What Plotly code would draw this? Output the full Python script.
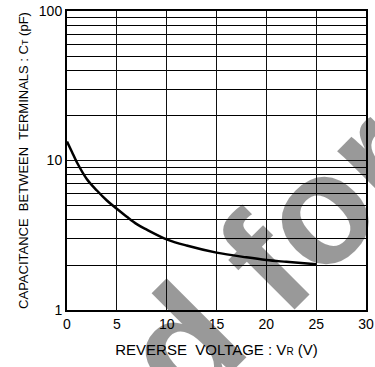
import plotly.graph_objects as go

# Data
voltage = [0, 0.5, 1, 2, 3, 4, 5, 6, 7, 8, 10, 12, 15, 18, 20, 22, 25]
capacitance = [13.4, 11.4, 9.7, 7.5, 6.3, 5.4, 4.75, 4.2, 3.75, 3.45, 2.97, 2.7, 2.42, 2.25, 2.16, 2.1, 2.02]

x_ticks = [0, 5, 10, 15, 20, 25, 30]
y_ticks = [1, 10, 100]
y_tick_labels = ["1", "10", "100"]

FONT = "Liberation Sans, Arial, sans-serif"
NB = "\u00a0"

fig = go.Figure()
fig.add_trace(go.Scatter(
    x=voltage, y=capacitance, mode="lines",
    line=dict(color="black", width=2.5, shape="spline"),
    showlegend=False, hoverinfo="skip",
))

fig.update_layout(
    width=375, height=367,
    margin=dict(l=67, r=9, t=11, b=57, autoexpand=False),
    paper_bgcolor="white", plot_bgcolor="white",
    font=dict(family=FONT, color="black"),
    xaxis=dict(
        range=[0, 30], tickvals=x_ticks, ticktext=[str(v) for v in x_ticks],
        showgrid=True, gridcolor="#111", gridwidth=1, automargin=False,
        showline=True, linecolor="black", linewidth=2, mirror=True,
        zeroline=False, ticks="", tickfont=dict(size=14, family=FONT, color="black"),
        title=dict(text=f"REVERSE{NB}{NB}VOLTAGE{NB}:{NB}V<span style='font-size:10px'>R</span>{NB}(V)",
                   font=dict(size=15, family=FONT, color="black"), standoff=14),
    ),
    yaxis=dict(
        type="log", range=[0, 2], tickvals=y_ticks, ticktext=y_tick_labels,
        showgrid=True, gridcolor="#111", gridwidth=1, automargin=False,
        minor=dict(dtick="D1", showgrid=True, gridcolor="#000", gridwidth=1, ticks=""),
        showline=True, linecolor="black", linewidth=2, mirror=True,
        zeroline=False, ticks="", tickfont=dict(size=14, family=FONT, color="black"),
        title=dict(text=f"CAPACITANCE{NB}{NB}BETWEEN{NB}{NB}TERMINALS{NB}:{NB}C<span style='font-size:9px'>T</span>{NB}(pF)",
                   font=dict(size=13, family=FONT, color="black"), standoff=7),
    ),
    annotations=[dict(
        text="d for", xref="paper", yref="paper", x=0.682, y=0.174,
        xanchor="center", yanchor="middle", showarrow=False, textangle=-45,
        font=dict(family=FONT, size=155, color="rgba(0,0,0,0.4)", weight="bold"),
    )],
)

fig.write_html("out.html")
